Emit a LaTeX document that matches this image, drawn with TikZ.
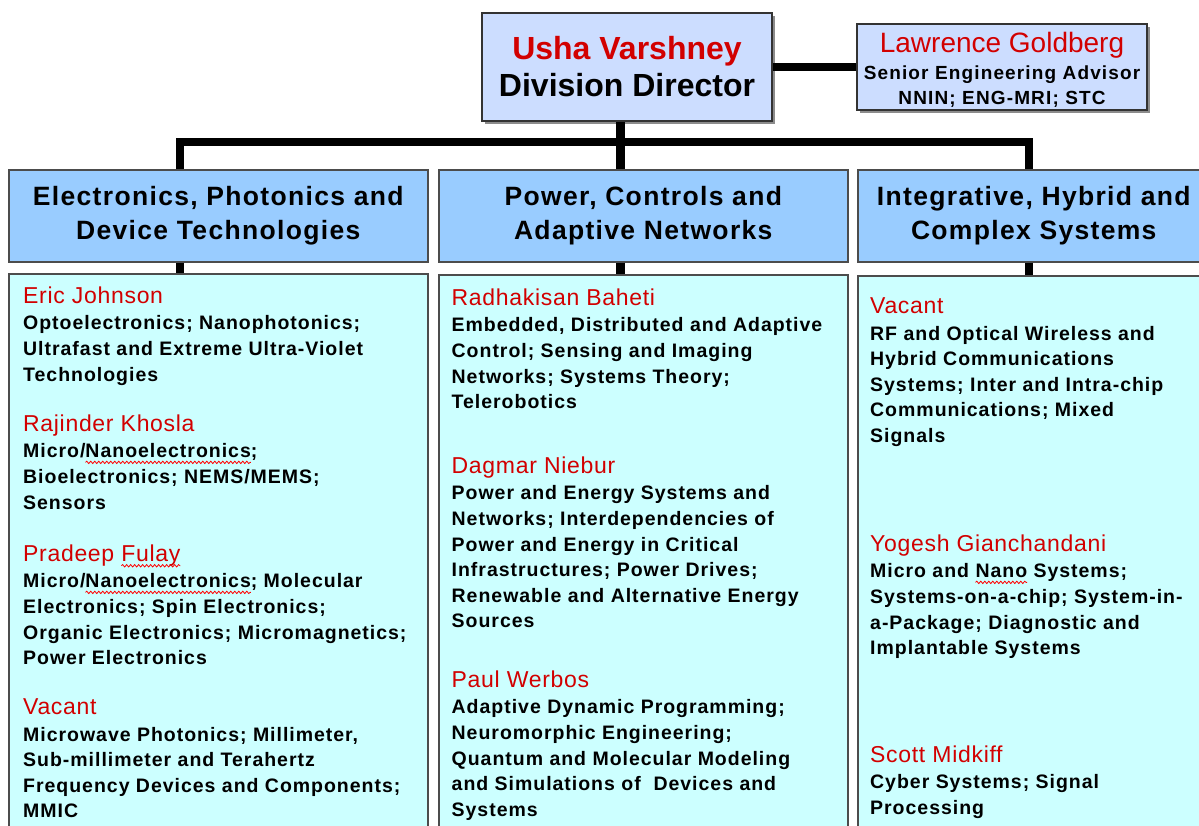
\documentclass[tikz,border=0pt]{standalone}
\usepackage{fontspec}
\setmainfont{Liberation Sans}
\newfontfamily\trackfont[LetterSpace=5]{Liberation Sans}
\newfontfamily\namefamily[LetterSpace=3]{Liberation Sans}
\newfontfamily\advfamily[LetterSpace=6]{Liberation Sans}
\usetikzlibrary{shadows,decorations.pathmorphing}

\definecolor{lavender}{RGB}{204,221,255}
\definecolor{skyblue}{RGB}{153,204,255}
\definecolor{paleaqua}{RGB}{204,255,255}
\definecolor{namered}{RGB}{210,0,0}

% wavy red underline
\newsavebox\wavebox
\newcommand\spellwave[1]{\sbox\wavebox{#1}\rlap{\tikz[overlay]\draw[red, line width=0.8pt,
  decorate, decoration={snake, amplitude=1.2pt, segment length=4pt}]
  (0pt,-4.5pt) -- (\wd\wavebox,-4.5pt);}\usebox\wavebox}
\newcommand\who[1]{{\namefamily\mdseries\fontsize{23}{26}\selectfont\color{namered}#1}}

\tikzset{
  chief/.style={draw=black!80, line width=1.5pt, fill=lavender, align=center, inner sep=0pt,
    drop shadow={shadow xshift=3pt, shadow yshift=-3pt, fill=black!45, opacity=1}},
  group/.style={draw=black!70, line width=1.5pt, fill=skyblue, anchor=north west,
    align=center, inner sep=0pt, minimum height=92pt,
    font=\trackfont\bfseries\fontsize{26.5}{34}\selectfont},
  panel/.style={draw=black!70, line width=1.5pt, fill=paleaqua, anchor=north west,
    minimum height=640pt},
  person/.style={anchor=north west, inner sep=0pt, align=left,
    font=\trackfont\bfseries\fontsize{19.5}{25.6}\selectfont},
  bar/.style={line width=8.5pt}
}

\begin{document}
\begin{tikzpicture}[x=1pt,y=-1pt]
\clip (0,0) rectangle (1199,825);
% top
\node[chief, minimum width=290pt, minimum height=108pt,
      font=\bfseries\fontsize{32}{35}\selectfont] (dir) at (627,67)
  {\textcolor{namered}{Usha Varshney}\\[2pt]Division Director};
\node[chief, minimum width=290pt, minimum height=86pt,
      font=\advfamily\bfseries\fontsize{19}{25.5}\selectfont] (adv) at (1002,67)
  {\rule{0pt}{26pt}{\rmfamily\mdseries\fontsize{28}{30}\selectfont\color{namered}Lawrence Goldberg}\\[1pt]
   Senior Engineering Advisor\\NNIN; ENG-MRI; STC};

% clusters
\node[group, minimum width=419pt] (hdr1) at (8,169)
  {Electronics, Photonics and\\Device Technologies};
\node[group, minimum width=409pt] (hdr2) at (438,169)
  {Power, Controls and\\Adaptive Networks};
\node[group, minimum width=352pt] (hdr3) at (857,169)
  {Integrative, Hybrid and\\Complex Systems};

\node[panel, minimum width=419pt] (col1) at (8,273) {};
\node[panel, minimum width=409pt] (col2) at (438,274) {};
\node[panel, minimum width=352pt] (col3) at (857,275) {};

% connectors
\coordinate (busW) at (180,142);
\coordinate (busM) at (620.5,142);
\coordinate (busE) at (1029,142);
\draw[bar] (dir.east) -- (adv.west);
\draw[bar] (dir.south -| busM) -- (hdr2.north -| busM);
\draw[bar] (hdr1.north -| busW) |- (busE) -- (hdr3.north -| busE);
\draw[bar] (hdr1.south -| busW) -- (col1.north -| busW);
\draw[bar] (hdr2.south -| busM) -- (col2.north -| busM);
\draw[bar] (hdr3.south -| busE) -- (col3.north -| busE);

% left column
\node[person] (johnson) at (23,286.4) {\who{Eric Johnson}\\[1pt]
  Optoelectronics; Nanophotonics;\\
  Ultrafast and Extreme Ultra-Violet\\
  Technologies};
\node[person] (khosla) at (23,414.4) {\who{Rajinder Khosla}\\[1pt]
  Micro/\spellwave{Nanoelectronics};\\
  Bioelectronics; NEMS/MEMS;\\
  Sensors};
\node[person] (fulay) at (23,544.4) {\who{Pradeep \spellwave{Fulay}}\\[1pt]
  Micro/\spellwave{Nanoelectronics}; Molecular\\
  Electronics; Spin Electronics;\\
  Organic Electronics; Micromagnetics;\\
  Power Electronics};
\node[person] (vacantA) at (23,698.4) {\who{Vacant}\\[1pt]
  Microwave Photonics; Millimeter,\\
  Sub-millimeter and Terahertz\\
  Frequency Devices and Components;\\
  MMIC};

% middle column
\node[person] (baheti) at (451.5,288.4) {\who{Radhakisan Baheti}\\[1pt]
  Embedded, Distributed and Adaptive\\
  Control; Sensing and Imaging\\
  Networks; Systems Theory;\\
  Telerobotics};
\node[person] (niebur) at (451.5,456.4) {\who{Dagmar Niebur}\\[1pt]
  Power and Energy Systems and\\
  Networks; Interdependencies of\\
  Power and Energy in Critical\\
  Infrastructures; Power Drives;\\
  Renewable and Alternative Energy\\
  Sources};
\node[person] (werbos) at (451.5,670.4) {\who{Paul Werbos}\\[1pt]
  Adaptive Dynamic Programming;\\
  Neuromorphic Engineering;\\
  Quantum and Molecular Modeling\\
  and Simulations of\ \ Devices and\\
  Systems};

% right column
\node[person] (vacantB) at (870,297.4) {\who{Vacant}\\[1pt]
  RF and Optical Wireless and\\
  Hybrid Communications\\
  Systems; Inter and Intra-chip\\
  Communications; Mixed\\
  Signals};
\node[person] (gianchandani) at (870,534.4) {\who{Yogesh Gianchandani}\\[1pt]
  Micro and \spellwave{Nano} Systems;\\
  Systems-on-a-chip; System-in-\\
  a-Package; Diagnostic and\\
  Implantable Systems};
\node[person] (midkiff) at (870,745.4) {\who{Scott Midkiff}\\[1pt]
  Cyber Systems; Signal\\
  Processing};
\end{tikzpicture}
\end{document}
